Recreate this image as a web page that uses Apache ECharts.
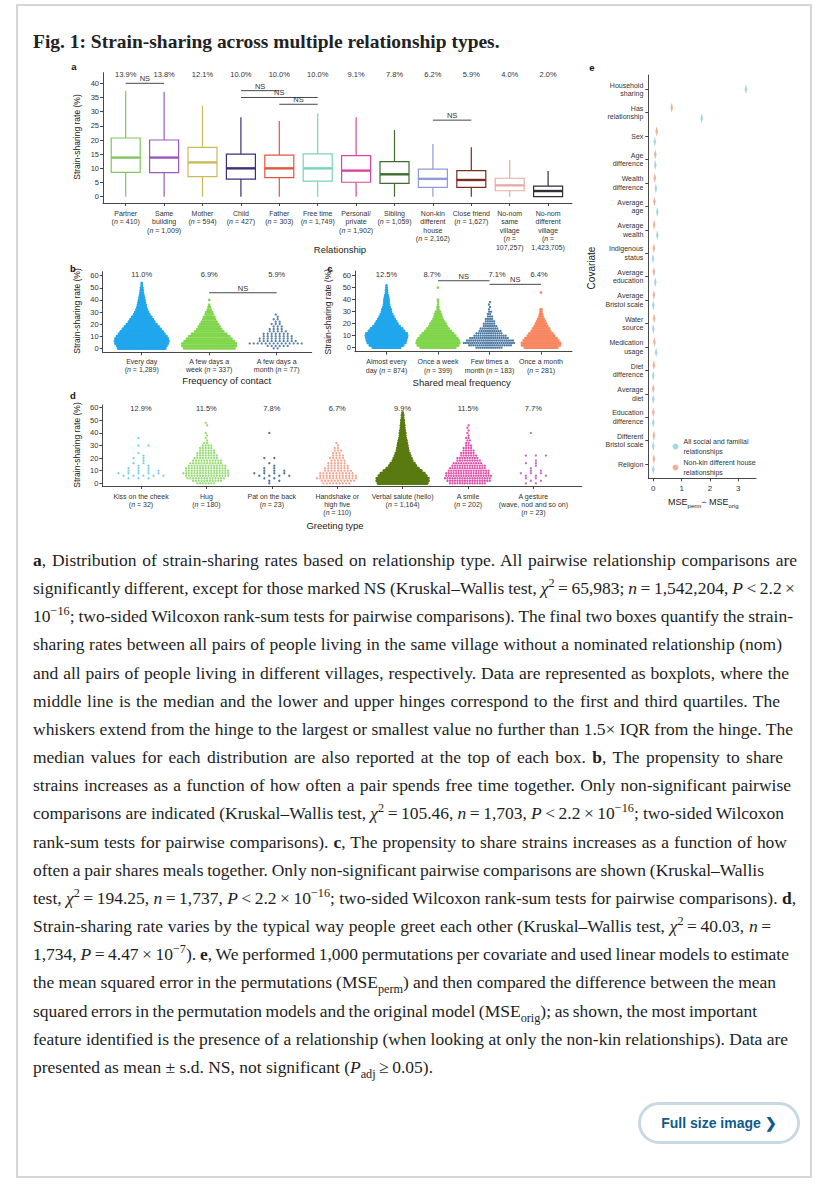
<!DOCTYPE html>
<html>
<head>
<meta charset="utf-8">
<script src="https://cdn.jsdelivr.net/npm/echarts@6/dist/echarts.min.js"></script>
<style>
html, body { margin: 0; padding: 0; background: #fff; }
#page { position: relative; width: 828px; height: 1186px; overflow: hidden; }
#chart { position: absolute; left: 0; top: 0; width: 828px; height: 1186px; }
.frame { position: absolute; left: 16px; top: 4px; width: 796px; height: 1174px; border: 2px solid #d6d6d6; box-sizing: border-box; pointer-events: none; }
.title { position: absolute; left: 33px; top: 28px; margin: 0; font: bold 20px/28px "Liberation Serif", serif; color: #222; white-space: nowrap; }
.caption { position: absolute; left: 33px; top: 546px; font: 17px/28.15px "Liberation Serif", serif; color: #1e1e1e; white-space: nowrap; }
.caption > div > span { display: inline-block; }
.caption sup, .caption sub { font-size: 0.7em; line-height: 0; }
.btn { position: absolute; left: 638px; top: 1102px; width: 162px; height: 42px; box-sizing: border-box; border: 3px solid #c8d9e3; border-radius: 21px; font: bold 14px/36px "Liberation Sans", Arial, sans-serif; color: #0f5b89; text-align: center; }
</style>
</head>
<body>
<div id="page">
  <div id="chart"></div>
  <div class="frame"></div>
  <h1 class="title"><span id="ttl">Fig. 1: Strain-sharing across multiple relationship types.</span></h1>
  <div class="caption" id="cap">
    <div><span><b>a</b>, Distribution of strain-sharing rates based on relationship type. All pairwise relationship comparisons are</span></div>
    <div><span>significantly different, except for those marked NS (Kruskal–Wallis test, <i>χ</i><sup>2</sup>&thinsp;=&thinsp;65,983; <i>n</i>&thinsp;=&thinsp;1,542,204, <i>P</i>&thinsp;&lt;&thinsp;2.2&thinsp;×</span></div>
    <div><span>10<sup>−16</sup>; two-sided Wilcoxon rank-sum tests for pairwise comparisons). The final two boxes quantify the strain-</span></div>
    <div><span>sharing rates between all pairs of people living in the same village without a nominated relationship (nom)</span></div>
    <div><span>and all pairs of people living in different villages, respectively. Data are represented as boxplots, where the</span></div>
    <div><span>middle line is the median and the lower and upper hinges correspond to the first and third quartiles. The</span></div>
    <div><span>whiskers extend from the hinge to the largest or smallest value no further than 1.5× IQR from the hinge. The</span></div>
    <div><span>median values for each distribution are also reported at the top of each box. <b>b</b>, The propensity to share</span></div>
    <div><span>strains increases as a function of how often a pair spends free time together. Only non-significant pairwise</span></div>
    <div><span>comparisons are indicated (Kruskal–Wallis test, <i>χ</i><sup>2</sup>&thinsp;=&thinsp;105.46, <i>n</i>&thinsp;=&thinsp;1,703, <i>P</i>&thinsp;&lt;&thinsp;2.2&thinsp;×&thinsp;10<sup>−16</sup>; two-sided Wilcoxon</span></div>
    <div><span>rank-sum tests for pairwise comparisons). <b>c</b>, The propensity to share strains increases as a function of how</span></div>
    <div><span>often a pair shares meals together. Only non-significant pairwise comparisons are shown (Kruskal–Wallis</span></div>
    <div><span>test, <i>χ</i><sup>2</sup>&thinsp;=&thinsp;194.25, <i>n</i>&thinsp;=&thinsp;1,737, <i>P</i>&thinsp;&lt;&thinsp;2.2&thinsp;×&thinsp;10<sup>−16</sup>; two-sided Wilcoxon rank-sum tests for pairwise comparisons). <b>d</b>,</span></div>
    <div><span>Strain-sharing rate varies by the typical way people greet each other (Kruskal–Wallis test, <i>χ</i><sup>2</sup>&thinsp;=&thinsp;40.03, <i>n</i>&thinsp;=</span></div>
    <div><span>1,734, <i>P</i>&thinsp;=&thinsp;4.47&thinsp;×&thinsp;10<sup>−7</sup>). <b>e</b>, We performed 1,000 permutations per covariate and used linear models to estimate</span></div>
    <div><span>the mean squared error in the permutations (MSE<sub>perm</sub>) and then compared the difference between the mean</span></div>
    <div><span>squared errors in the permutation models and the original model (MSE<sub>orig</sub>); as shown, the most important</span></div>
    <div><span>feature identified is the presence of a relationship (when looking at only the non-kin relationships). Data are</span></div>
    <div><span>presented as mean ± s.d. NS, not significant (<i>P</i><sub>adj</sub>&thinsp;≥&thinsp;0.05).</span></div>
  </div>
  <div class="btn">Full size image&nbsp;❯</div>
</div>
<script>
const FONT = '"Liberation Sans", Arial, sans-serif';
const INK = '#333';

// a: relationship boxplots [min, q1, median, q3, max]
const relLabels = ['Partner\n(n = 410)', 'Same\nbuilding\n(n = 1,009)', 'Mother\n(n = 594)', 'Child\n(n = 427)', 'Father\n(n = 303)', 'Free time\n(n = 1,749)', 'Personal/\nprivate\n(n = 1,902)', 'Sibling\n(n = 1,059)', 'Non-kin\ndifferent\nhouse\n(n = 2,162)', 'Close friend\n(n = 1,627)', 'No-nom\nsame\nvillage\n(n =\n107,257)', 'No-nom\ndifferent\nvillage\n(n =\n1,423,705)'];
const relBoxes = [
  [0, 8.6, 13.8, 20.7, 37.4], [0, 8.5, 13.8, 20.0, 37.0], [0, 7.1, 12.1, 17.4, 32.1], [0, 6.2, 10.0, 15.0, 28.0],
  [0, 6.7, 10.0, 14.7, 26.7], [0, 5.5, 10.0, 15.1, 29.4], [0, 5.1, 9.2, 14.5, 28.0], [0, 4.7, 7.9, 12.4, 23.5],
  [0, 3.3, 6.3, 9.7, 18.6], [0, 3.3, 5.9, 9.2, 17.4], [0, 2.1, 4.0, 6.5, 12.9], [0, 0, 2.0, 3.7, 9.1],
];
const relMedians = ['13.9%', '13.8%', '12.1%', '10.0%', '10.0%', '10.0%', '9.1%', '7.8%', '6.2%', '5.9%', '4.0%', '2.0%'];
const relNS = [[0, 1, 40], [3, 4, 37.4], [3, 5, 35.0], [4, 5, 32.6], [8, 9, 27.0]];
const relTicks = [0, 5, 10, 15, 20, 25, 30, 35, 40];

// b, c, d: beeswarms, counts of pairs per 2-point bin of strain-sharing rate starting at 0
const swarmTicks = [0, 10, 20, 30, 40, 50, 60];
const contactLabels = ['Every day\n(n = 1,289)', 'A few days a\nweek (n = 337)', 'A few days a\nmonth (n = 77)'];
const contactMedians = ['11.0%', '6.9%', '5.9%'];
const contactCounts = [
  [94, 98, 104, 106, 104, 98, 90, 83, 75, 67, 59, 51, 45, 39, 31, 26, 22, 18, 16, 14, 12, 10, 8, 6, 5, 4, 2, 1],
  [35, 37, 37, 34, 31, 28, 24, 20, 17, 15, 13, 11, 9, 8, 6, 5, 3, 2, 1, 0, 1],
  [2, 6, 14, 10, 9, 8, 7, 5, 4, 3, 3, 2, 2, 1, 1],
];
const contactNS = [[1, 2, 45.9]];

const mealLabels = ['Almost every\nday (n = 874)', 'Once a week\n(n = 399)', 'Few times a\nmonth (n = 183)', 'Once a month\n(n = 281)'];
const mealMedians = ['12.5%', '8.7%', '7.1%', '6.4%'];
const mealCounts = [
  [49, 60, 67, 70, 72, 74, 72, 63, 56, 47, 40, 35, 30, 25, 21, 17, 16, 12, 10, 9, 9, 7, 5, 3, 3, 2, 1],
  [35, 41, 43, 42, 39, 35, 31, 26, 22, 18, 16, 13, 10, 8, 7, 5, 2, 2, 1, 1, 1, 0, 0, 0, 0, 1],
  [13, 21, 25, 23, 19, 16, 13, 11, 9, 7, 6, 5, 4, 3, 2, 2, 1, 1, 1, 1],
  [29, 34, 34, 31, 28, 24, 21, 17, 15, 12, 10, 8, 6, 4, 3, 2, 2, 0, 0, 0, 0, 0, 0, 1],
];
const mealNS = [[1, 2, 55.8], [2, 3, 52.8]];

const greetLabels = ['Kiss on the cheek\n(n = 32)', 'Hug\n(n = 180)', 'Pat on the back\n(n = 23)', 'Handshake or\nhigh five\n(n = 110)', 'Verbal salute (hello)\n(n = 1,164)', 'A smile\n(n = 202)', 'A gesture\n(wave, nod and so on)\n(n = 23)'];
const greetMedians = ['12.9%', '11.5%', '7.8%', '6.7%', '9.9%', '11.5%', '7.7%'];
const greetCounts = [
  [0, 0, 3, 5, 5, 4, 3, 2, 2, 1, 2, 1, 1, 0, 0, 2, 0, 0, 1],
  [7, 11, 14, 16, 17, 16, 15, 14, 12, 11, 9, 8, 7, 6, 5, 4, 2, 1, 1, 1, 1, 0, 0, 1, 1],
  [1, 2, 2, 4, 4, 3, 2, 1, 1, 0, 2, 0, 0, 0, 0, 0, 0, 0, 0, 0, 1],
  [9, 11, 13, 12, 11, 9, 8, 7, 6, 5, 5, 4, 3, 3, 2, 1, 1],
  [110, 115, 115, 106, 97, 84, 71, 60, 53, 44, 40, 35, 31, 26, 24, 22, 20, 18, 15, 13, 13, 11, 9, 9, 7, 7, 4, 4, 2],
  [15, 18, 19, 19, 18, 17, 15, 14, 12, 10, 9, 7, 6, 5, 4, 3, 2, 2, 2, 1, 1, 1, 1, 1],
  [2, 2, 2, 3, 3, 2, 1, 1, 2, 1, 0, 3, 0, 0, 0, 0, 0, 0, 0, 0, 1],
];

// e: permutation importance (MSE_perm - MSE_orig)
const covariates = ['Household\nsharing', 'Has\nrelationship', 'Sex', 'Age\ndifference', 'Wealth\ndifference', 'Average\nage', 'Average\nwealth', 'Indigenous\nstatus', 'Average\neducation', 'Average\nBristol scale', 'Water\nsource', 'Medication\nusage', 'Diet\ndifference', 'Average\ndiet', 'Education\ndifference', 'Different\nBristol scale', 'Religion'];
const allMse = [3.27, 1.71, 0.05, 0.07, 0.09, 0.14, 0.14, -0.01, 0.07, 0.0, 0.0, 0.1, 0.0, 0.0, 0.0, 0.0, 0.0];
const nonKinMse = [null, 0.65, 0.12, 0.07, 0.05, 0.04, 0.03, 0.02, 0.02, 0.02, 0.03, 0.04, 0.02, 0.0, 0.0, 0.02, 0.02];
const mseTicks = [0, 1, 2, 3];
const ALL = 'All social and familial\nrelationships';
const NONKIN = 'Non-kin different house\nrelationships';

// styles
const relColors = ['#82c65e', '#9c57c0', '#cbba5a', '#3f2e79', '#e2553e', '#78d4bb', '#d6489f', '#3f6b30', '#8f9bd8', '#7b2c23', '#e8aca6', '#2f2f36'];
const contactColors = ['#22a7ec', '#80d64b', '#5a82a8'];
const contactGaps = [0.51, 1.49, 4];
const mealColors = ['#22a7ec', '#80d64b', '#4d79a3', '#f7875f'];
const mealGaps = [0.57, 1.02, 2.09, 1.16];
const mealLabelShift = [0, -6, 7.5, -2];
const greetColors = ['#7ccfe8', '#95dc74', '#4f7398', '#f3a690', '#5a7b12', '#e04fa9', '#c46bca'];
const greetGaps = [10, 2.8, 10, 3.24, 0.454, 2.49, 10];
// right edge (px from caption left) of every caption line but the last, as on the page
const captionWidths = [764, 762, 760, 749, 756, 747, 760, 750, 758, 751, 754, 731, 763, 738, 756, 743, 724, 755];

// pixel frame of each panel: value axes are stretched so that ticks land where the figure has them
const spanX = (origin, unit, from, to) => ({ min: (from - origin) / unit, max: (to - origin) / unit });
const spanY = (origin, unit, bottom, top) => ({ min: (origin - bottom) / unit, max: (origin - top) / unit });
const panels = [
  { left: 103, top: 72.7, right: 572, bottom: 203, x: spanX(125.7, 38.4, 103, 572), y: spanY(196.7, 2.835, 203, 72.7) },
  { left: 102.7, top: 271.7, right: 311.7, bottom: 352.3, x: spanX(141.7, 67.5, 102.7, 311.7), y: spanY(348.3, 1.21, 352.3, 271.7) },
  { left: 355, top: 271, right: 572, bottom: 351.7, x: spanX(386.5, 51.5, 355, 572), y: spanY(347.7, 1.2, 351.7, 271) },
  { left: 102.3, top: 405, right: 581.7, bottom: 486, x: spanX(141, 65.4, 102.3, 581.7), y: spanY(483.3, 1.26, 486, 405) },
  { left: 648.3, top: 75, right: 756, bottom: 478.3, x: spanX(653.3, 28.33, 648.3, 756), y: { min: (75 - 89.3) / 23.42, max: (478.3 - 89.3) / 23.42 } },
];

const lineStyle = { color: INK, width: 0.9 };
const italicN = (s) => s.replace(/\bn =/g, '{i|n} =');

function catAxis(p, labels, margin, lh) {
  return {
    type: 'value', gridIndex: p, min: panels[p].x.min, max: panels[p].x.max,
    axisLine: { show: true, onZero: false, lineStyle }, splitLine: { show: false },
    axisTick: { show: true, length: 3, lineStyle, customValues: labels.map((_, i) => i) },
    axisLabel: {
      customValues: labels.map((_, i) => i), fontSize: 7, lineHeight: lh, color: INK, margin, fontFamily: FONT,
      formatter: (v) => italicN(labels[Math.round(v)]),
      rich: { i: { fontStyle: 'italic', fontSize: 7, lineHeight: lh, color: INK, fontFamily: FONT } },
    },
  };
}

function rateAxis(p, ticks) {
  return {
    type: 'value', gridIndex: p, min: panels[p].y.min, max: panels[p].y.max,
    axisLine: { show: true, onZero: false, lineStyle }, splitLine: { show: false },
    axisTick: { show: true, length: 3, lineStyle, customValues: ticks },
    axisLabel: { customValues: ticks, fontSize: 7.5, color: INK, margin: 4, fontFamily: FONT },
  };
}

function textSeries(p, y, texts, shifts) {
  return {
    type: 'custom', xAxisIndex: p, yAxisIndex: p, clip: false, silent: true, z: 5,
    data: texts.map((_, i) => [i, y]),
    renderItem: (params, api) => {
      const c = api.coord([api.value(0), api.value(1)]);
      return { type: 'text', x: c[0] + (shifts ? shifts[params.dataIndex] : 0), y: c[1], style: { text: texts[params.dataIndex], fontSize: 7.5, fill: INK, align: 'center', verticalAlign: 'middle', fontFamily: FONT } };
    },
  };
}

function nsSeries(p, pairs) {
  return {
    type: 'custom', xAxisIndex: p, yAxisIndex: p, clip: false, silent: true, z: 5,
    data: pairs,
    renderItem: (params, api) => {
      const a = api.coord([api.value(0), api.value(2)]);
      const b = api.coord([api.value(1), api.value(2)]);
      return { type: 'group', children: [
        { type: 'line', shape: { x1: a[0], y1: a[1], x2: b[0], y2: b[1] }, style: { stroke: INK, lineWidth: 0.9 } },
        { type: 'text', x: (a[0] + b[0]) / 2, y: a[1] - 0.5, style: { text: 'NS', fontSize: 7.5, fill: INK, align: 'center', verticalAlign: 'bottom', fontFamily: FONT } },
      ] };
    },
  };
}

function boxSeries(p, boxes, colors) {
  return {
    type: 'custom', xAxisIndex: p, yAxisIndex: p, silent: true,
    data: boxes.map((b, i) => [i, ...b]),
    renderItem: (params, api) => {
      const i = api.value(0);
      const x = api.coord([i, 0])[0];
      const y = (k) => api.coord([i, api.value(k)])[1];
      const w = 29, col = colors[params.dataIndex], st = { stroke: col, lineWidth: 1.2 };
      return { type: 'group', children: [
        { type: 'line', shape: { x1: x, y1: y(1), x2: x, y2: y(2) }, style: st },
        { type: 'line', shape: { x1: x, y1: y(4), x2: x, y2: y(5) }, style: st },
        { type: 'rect', shape: { x: x - w / 2, y: y(4), width: w, height: y(2) - y(4) }, style: { fill: '#fff', stroke: col, lineWidth: 1.2 } },
        { type: 'line', shape: { x1: x - w / 2, y1: y(3), x2: x + w / 2, y2: y(3) }, style: { stroke: col, lineWidth: 2.4 } },
      ] };
    },
  };
}

// one row of dots per bin, centred on the category, alternate rows nudged half a step
function swarmSeries(p, counts, colors, gaps) {
  const data = [];
  counts.forEach((bins, g) => bins.forEach((n, k) => { if (n > 0) data.push([g, k * 2, n, k]); }));
  return {
    type: 'custom', xAxisIndex: p, yAxisIndex: p, silent: true,
    data,
    renderItem: (params, api) => {
      const g = api.value(0), n = api.value(2), row = api.value(3);
      const c = api.coord([g, api.value(1)]);
      const gap = gaps[g], dense = gap < 2, r = dense ? 1.35 : 1.15;
      const shift = dense ? 0 : (row % 2 ? gap / 4 : -gap / 4);
      const children = [];
      for (let j = 0; j < n; j++) {
        children.push({ type: 'circle', shape: { cx: c[0] + shift + (j - (n - 1) / 2) * gap, cy: c[1], r }, style: { fill: colors[g] } });
      }
      return { type: 'group', children };
    },
  };
}

const txt = (x, y, text, extra) => ({ type: 'text', x, y, silent: true, style: Object.assign({ text, fontSize: 9.5, fill: '#222', align: 'center', verticalAlign: 'middle', fontFamily: FONT }, extra || {}) });
const letter = (x, y, t) => txt(x, y, t, { fontSize: 9.5, fontWeight: 'bold', fill: '#111' });
const yTitle = (x, y, t) => Object.assign(txt(x, y, t, { fontSize: 8.5 }), { rotation: Math.PI / 2 });

const chart = echarts.init(document.getElementById('chart'), null, { renderer: 'svg' });
chart.setOption({
  animation: false,
  textStyle: { fontFamily: FONT },
  grid: panels.map((g) => ({ left: g.left, top: g.top, width: g.right - g.left, height: g.bottom - g.top })),
  xAxis: [
    catAxis(0, relLabels, 6, 8.5),
    catAxis(1, contactLabels, 5, 8.3),
    catAxis(2, mealLabels, 6, 8.3),
    catAxis(3, greetLabels, 6.5, 7.8),
    {
      type: 'value', gridIndex: 4, min: panels[4].x.min, max: panels[4].x.max,
      axisLine: { show: true, onZero: false, lineStyle }, splitLine: { show: false },
      axisTick: { show: true, length: 3, lineStyle, customValues: mseTicks },
      axisLabel: { customValues: mseTicks, fontSize: 8, color: INK, margin: 6, fontFamily: FONT },
    },
  ],
  yAxis: [
    rateAxis(0, relTicks),
    rateAxis(1, swarmTicks),
    rateAxis(2, swarmTicks),
    rateAxis(3, swarmTicks),
    {
      type: 'value', gridIndex: 4, inverse: true, min: panels[4].y.min, max: panels[4].y.max,
      axisLine: { show: true, onZero: false, lineStyle }, splitLine: { show: false },
      axisTick: { show: true, length: 3, lineStyle, customValues: covariates.map((_, i) => i) },
      axisLabel: { customValues: covariates.map((_, i) => i), fontSize: 7, lineHeight: 8.5, align: 'right', color: INK, margin: 5, fontFamily: FONT, formatter: (v) => covariates[Math.round(v)] },
    },
  ],
  legend: {
    orient: 'vertical', left: 667.5, top: 432, itemWidth: 6, itemHeight: 6, itemGap: 2,
    textStyle: { fontSize: 7, lineHeight: 9.5, color: INK, fontFamily: FONT },
    data: [{ name: ALL, icon: 'circle' }, { name: NONKIN, icon: 'circle' }],
  },
  series: [
    boxSeries(0, relBoxes, relColors),
    textSeries(0, 43.2, relMedians),
    nsSeries(0, relNS),
    swarmSeries(1, contactCounts, contactColors, contactGaps),
    textSeries(1, 60.6, contactMedians),
    nsSeries(1, contactNS),
    swarmSeries(2, mealCounts, mealColors, mealGaps),
    textSeries(2, 60.6, mealMedians, mealLabelShift),
    nsSeries(2, mealNS),
    swarmSeries(3, greetCounts, greetColors, greetGaps),
    textSeries(3, 59.5, greetMedians),
    {
      name: NONKIN, type: 'scatter', xAxisIndex: 4, yAxisIndex: 4, symbol: 'diamond', symbolSize: [2.6, 10], symbolOffset: [0, -5],
      itemStyle: { color: '#e6a07e' }, silent: true,
      data: nonKinMse.map((v, i) => (v === null ? null : [v, i])).filter(Boolean),
    },
    {
      name: ALL, type: 'scatter', xAxisIndex: 4, yAxisIndex: 4, symbol: 'diamond', symbolSize: [2.6, 10],
      itemStyle: { color: '#8ecbe0' }, silent: true,
      data: allMse.map((v, i) => ({ value: [v, i], symbolOffset: [0, i === 0 ? 0 : 5.5] })),
    },
  ],
  graphic: [
    letter(74, 66, 'a'), letter(73, 268, 'b'), letter(330, 268, 'c'), letter(73, 395, 'd'), letter(592, 67, 'e'),
    yTitle(76.7, 137, 'Strain-sharing rate (%)'),
    yTitle(76.7, 311, 'Strain-sharing rate (%)'),
    yTitle(328.3, 311.7, 'Strain-sharing rate (%)'),
    yTitle(76.7, 445, 'Strain-sharing rate (%)'),
    Object.assign(txt(591.7, 268, 'Covariate', { fontSize: 10 }), { rotation: Math.PI / 2 }),
    txt(340, 249, 'Relationship'),
    txt(226.7, 380, 'Frequency of contact'),
    txt(461.7, 382.7, 'Shared meal frequency'),
    txt(335, 525.7, 'Greeting type'),
    txt(703.3, 501.7, 'MSE{s|perm}− MSE{s|orig}', { fontSize: 9, rich: { s: { fontSize: 6, verticalAlign: 'bottom', lineHeight: 14, fontFamily: FONT, fill: '#222' } } }),
  ],
});

// size the HTML type so each line ends where it does on the page
const ttl = document.getElementById('ttl');
const titleEl = document.querySelector('.title');
titleEl.style.fontSize = (20 * 467 / ttl.getBoundingClientRect().width) + 'px';

const cap = document.getElementById('cap');
const lines = [...cap.querySelectorAll(':scope > div > span')];
const ratios = captionWidths.map((w, i) => w / lines[i].getBoundingClientRect().width).sort((a, b) => a - b);
cap.style.fontSize = (17 * ratios[Math.floor(ratios.length / 2)]) + 'px';
captionWidths.forEach((w, i) => {
  const s = lines[i];
  const spaces = (s.textContent.match(/ /g) || []).length;
  const diff = w - s.getBoundingClientRect().width;
  if (spaces) s.style.wordSpacing = (diff / spaces) + 'px';
});
</script>
</body>
</html>
